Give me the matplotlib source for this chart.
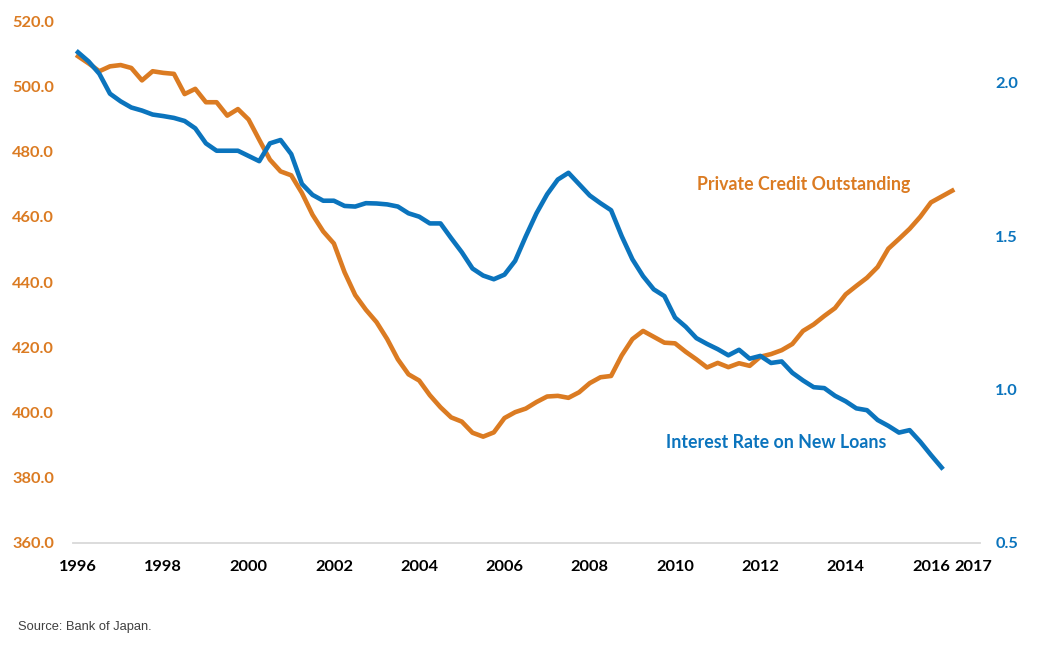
import numpy as np
import matplotlib.pyplot as plt

# Japan: private credit outstanding (left, tn yen) vs interest rate on new loans (right, %)
# quarterly, starting 1996Q1

credit = [509.2, 507.0, 504.6, 506.1, 506.5, 505.6, 501.8, 504.6, 504.1, 503.8,
          497.6, 499.2, 495.1, 495.1, 491.0, 493.0, 489.8, 483.6, 477.5, 473.9,
          472.7, 467.3, 460.6, 455.5, 451.8, 443.0, 436.0, 431.5, 427.7, 422.5,
          416.3, 411.7, 409.8, 405.3, 401.6, 398.5, 397.2, 393.8, 392.6, 393.9,
          398.3, 400.1, 401.2, 403.2, 404.9, 405.1, 404.5, 406.2, 409.0, 410.8,
          411.2, 417.5, 422.5, 425.0, 423.2, 421.4, 421.2, 418.6, 416.3, 413.8,
          415.2, 413.9, 415.1, 414.3, 417.1, 417.9, 419.1, 421.0, 425.0, 427.0,
          429.6, 432.0, 436.2, 438.8, 441.3, 444.6, 450.2, 453.2, 456.3, 460.0,
          464.4, 466.2, 468.0]

rate = [2.100, 2.070, 2.030, 1.965, 1.940, 1.920, 1.910, 1.897, 1.892, 1.886,
        1.876, 1.852, 1.803, 1.779, 1.779, 1.779, 1.762, 1.745, 1.803, 1.814,
        1.768, 1.671, 1.635, 1.616, 1.616, 1.599, 1.597, 1.608, 1.607, 1.604,
        1.597, 1.575, 1.564, 1.542, 1.542, 1.494, 1.448, 1.395, 1.372, 1.360,
        1.375, 1.420, 1.500, 1.575, 1.637, 1.685, 1.707, 1.670, 1.633, 1.608,
        1.585, 1.500, 1.425, 1.370, 1.327, 1.305, 1.235, 1.205, 1.168, 1.149,
        1.132, 1.112, 1.130, 1.101, 1.110, 1.087, 1.092, 1.055, 1.030, 1.008,
        1.005, 0.980, 0.962, 0.939, 0.933, 0.901, 0.882, 0.860, 0.868, 0.830,
        0.787, 0.746]

year_ticks = [1996, 1998, 2000, 2002, 2004, 2006, 2008, 2010, 2012, 2014, 2016, 2017]
left_ticks = [360, 380, 400, 420, 440, 460, 480, 500, 520]
right_ticks = [0.5, 1.0, 1.5, 2.0]

orange = '#DB7B22'
blue = '#0B74BD'

x_credit = 1996 + np.arange(len(credit)) / 4
x_rate = 1996 + np.arange(len(rate)) / 4

plt.rcParams['font.family'] = 'Lato'

fig = plt.figure(figsize=(10.39, 6.49), dpi=100)
ax = fig.add_axes([73/1039, 1 - 543/649, (980 - 73)/1039, 522/649])
ax2 = ax.twinx()

ax.plot(x_credit, credit, color=orange, lw=3.3, solid_joinstyle='round')
ax2.plot(x_rate, rate, color=blue, lw=3.3, solid_joinstyle='round')

ax.set_xlim(1995.883, 2017.15)
ax.set_ylim(360, 520)
ax2.set_ylim(0.5, 2.202)

ax.set_xticks(year_ticks)
ax.set_xticklabels([str(y) for y in year_ticks], fontsize=11.8, fontweight='bold', color='black')
ax.set_yticks(left_ticks)
ax.set_yticklabels([f"{v:.1f}" for v in left_ticks], fontsize=11.8, fontweight='bold', color=orange)
ax2.set_yticks(right_ticks)
ax2.set_yticklabels([f"{v:.1f}" for v in right_ticks], fontsize=11.8, fontweight='bold', color=blue)

ax.tick_params(axis='x', length=0, pad=12.5)
ax.tick_params(axis='y', length=0, pad=13.5)
ax2.tick_params(axis='y', length=0, pad=11)

for a in (ax, ax2):
    for s in a.spines.values():
        s.set_visible(False)
ax.spines['bottom'].set_visible(True)
ax.spines['bottom'].set_color('#D9D9D9')
ax.spines['bottom'].set_linewidth(1.3)

ax.text(2013.02, 470.0, "Private Credit Outstanding", color=orange, fontsize=12.8,
        fontweight='bold', ha='center', va='center')
ax.text(2012.38, 390.7, "Interest Rate on New Loans", color=blue, fontsize=12.8,
        fontweight='bold', ha='center', va='center')

fig.text(18/1039, 1 - 627/649, "Source: Bank of Japan.", fontsize=9.3,
         family='Liberation Sans', color='#404040', va='center', ha='left')

fig.savefig('out.png', dpi=100)
